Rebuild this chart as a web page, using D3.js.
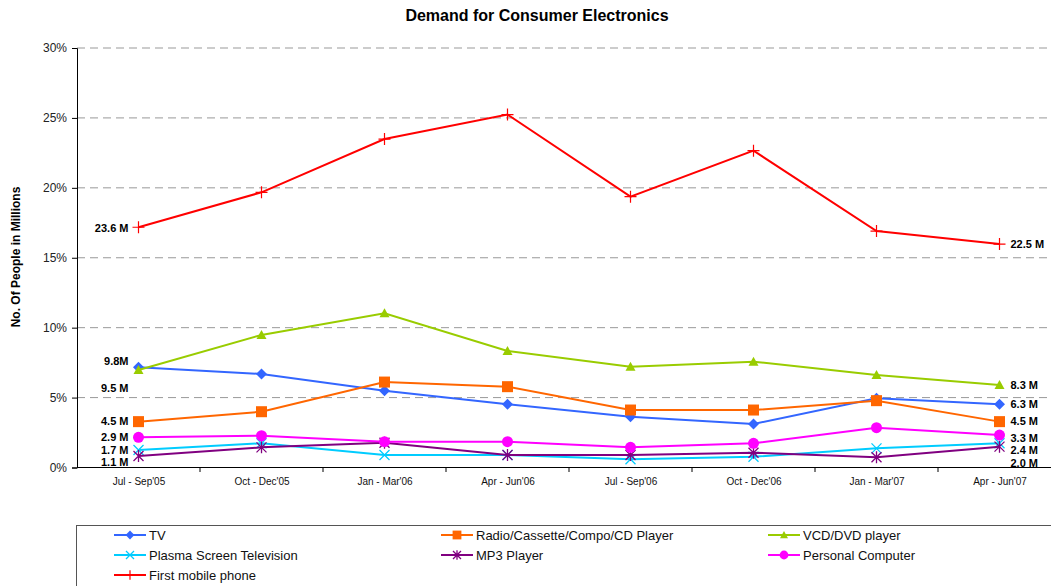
<!DOCTYPE html>
<html><head><meta charset="utf-8">
<script src="https://cdn.jsdelivr.net/npm/d3@7"></script>
<style>body{margin:0;background:#fff}svg{display:block;font-family:"Liberation Sans",Arial,sans-serif}</style>
</head><body>
<svg id="c" width="1051" height="586"></svg>
<script>
const categories = ["Jul - Sep'05","Oct - Dec'05","Jan - Mar'06","Apr - Jun'06","Jul - Sep'06","Oct - Dec'06","Jan - Mar'07","Apr - Jun'07"];
const yTicks = [0,5,10,15,20,25,30];
const tv       = [7.17,6.69,5.49,4.52,3.63,3.11,4.95,4.52];
const radio    = [3.28,3.99,6.11,5.78,4.11,4.11,4.78,3.28];
const vcd      = [6.97,9.48,11.03,8.33,7.21,7.57,6.62,5.90];
const plasma   = [1.25,1.73,0.89,0.89,0.59,0.77,1.37,1.73];
const mp3      = [0.82,1.44,1.77,0.89,0.89,1.06,0.73,1.49];
const pc       = [2.16,2.27,1.85,1.85,1.44,1.73,2.85,2.32];
const mobile   = [17.18,19.68,23.49,25.24,19.37,22.66,16.91,15.98];
const seriesNames = ["TV","Radio/Cassette/Compo/CD Player","VCD/DVD player","Plasma Screen Television","MP3 Player","Personal Computer","First mobile phone"];
const leftLabels  = ["9.8M","4.5 M","9.5 M","1.7 M","1.1 M","2.9 M","23.6 M"];
const rightLabels = ["6.3 M","4.5 M","8.3 M","2.4 M","2.0 M","3.3 M","22.5 M"];

const colors = ["#3366ff","#ff6600","#99cc00","#00ccff","#800080","#ff00ff","#ff0000"];
const markers = ["diamond","square","triangle","x","star","circle","plus"];
const leftDy  = [-6,0,18,0,6,0,1];
const rightDy = [0,0,0,7,16,3,0];
const values = [tv,radio,vcd,plasma,mp3,pc,mobile];

const svg = d3.select("#c");
const x = d3.scalePoint().domain(categories).range([77,1061]).padding(0.5);
const y = d3.scaleLinear().domain([0,30]).range([467.5,48]);

// title
svg.append("text").attr("x",537).attr("y",21).attr("text-anchor","middle")
  .attr("font-size",16).attr("font-weight","bold").text("Demand for Consumer Electronics");

// grid
svg.append("g").selectAll("line").data(yTicks.filter(d=>d>0)).join("line")
  .attr("x1",77).attr("x2",1051).attr("y1",d=>y(d)).attr("y2",d=>y(d))
  .attr("stroke","#999").attr("stroke-width",1).attr("stroke-dasharray","8,5");

// y axis
const ya = svg.append("g").attr("transform","translate(77,0)")
  .call(d3.axisLeft(y).tickValues(yTicks).tickFormat(d=>d+"%").tickSize(5).tickPadding(5));
ya.select(".domain").attr("stroke","#000");
ya.selectAll("text").attr("font-size",12).attr("font-family","Liberation Sans, Arial").attr("fill","#222");

// x axis
const xa = svg.append("g").attr("transform","translate(0,467.5)")
  .call(d3.axisBottom(x).tickSize(0).tickPadding(10));
xa.select(".domain").attr("stroke","#000").attr("d","M77,0H1051");
xa.selectAll("text").attr("font-size",10).attr("font-family","Liberation Sans Narrow, Liberation Sans, Arial").attr("fill","#111");
const step = x.step();
svg.append("g").selectAll("line").data(categories.slice(1)).join("line")
  .attr("x1",d=>x(d)-step/2).attr("x2",d=>x(d)-step/2).attr("y1",467.5).attr("y2",472)
  .attr("stroke","#000");

// y title
svg.append("text").attr("transform","translate(20,257) rotate(-90)").attr("text-anchor","middle")
  .attr("font-size",12).attr("font-weight","bold").text("No. Of People in Millions");

function drawMarker(g, type, color, s){
  s = s || 1;
  if(type==="diamond") g.append("path").attr("d",`M0,${-5.5*s}L${5.5*s},0L0,${5.5*s}L${-5.5*s},0Z`).attr("fill",color);
  else if(type==="square") g.append("rect").attr("x",-5.5*s).attr("y",-5.5*s).attr("width",11*s).attr("height",11*s).attr("fill",color);
  else if(type==="triangle") g.append("path").attr("d",`M0,${-5*s}L${5*s},${4*s}L${-5*s},${4*s}Z`).attr("fill",color);
  else if(type==="circle") g.append("circle").attr("r",5.5*s).attr("fill",color);
  else if(type==="x") g.append("path").attr("d",`M${-5*s},${-5*s}L${5*s},${5*s}M${-5*s},${5*s}L${5*s},${-5*s}`).attr("stroke",color).attr("stroke-width",1.3);
  else if(type==="star") g.append("path").attr("d",`M${-5*s},${-5*s}L${5*s},${5*s}M${-5*s},${5*s}L${5*s},${-5*s}M0,${-6*s}L0,${6*s}`).attr("stroke",color).attr("stroke-width",1.3);
  else if(type==="plus") g.append("path").attr("d",`M${-6*s},0L${6*s},0M0,${-6*s}L0,${6*s}`).attr("stroke",color).attr("stroke-width",1.2);
}

const line = d3.line().x((d,i)=>x(categories[i])).y(d=>y(d));
values.forEach((vals,si)=>{
  const g = svg.append("g");
  g.append("path").datum(vals).attr("d",line).attr("fill","none").attr("stroke",colors[si]).attr("stroke-width",2);
  vals.forEach((v,i)=>{
    const m = g.append("g").attr("transform",`translate(${x(categories[i])},${y(v)})`);
    drawMarker(m, markers[si], colors[si]);
  });
  svg.append("text").attr("x",x(categories[0])-10).attr("y",y(vals[0])+leftDy[si]).attr("dy","0.35em")
    .attr("text-anchor","end").attr("font-size",11).attr("font-weight","bold").text(leftLabels[si]);
  svg.append("text").attr("x",x(categories[7])+11).attr("y",y(vals[7])+rightDy[si]).attr("dy","0.35em")
    .attr("text-anchor","start").attr("font-size",11).attr("font-weight","bold").text(rightLabels[si]);
});

// legend
svg.append("rect").attr("x",76.5).attr("y",525.5).attr("width",1000).attr("height",100)
  .attr("fill","none").attr("stroke","#555").attr("stroke-width",1);
const legCols = [114,441,768];
const legRows = [535,555,575];
seriesNames.forEach((n,i)=>{
  const cx = legCols[i%3], cy = legRows[Math.floor(i/3)];
  const g = svg.append("g");
  g.append("line").attr("x1",cx).attr("x2",cx+32).attr("y1",cy).attr("y2",cy).attr("stroke",colors[i]).attr("stroke-width",2);
  const m = g.append("g").attr("transform",`translate(${cx+16},${cy})`);
  drawMarker(m, markers[i], colors[i], 0.8);
  g.append("text").attr("x",cx+35).attr("y",cy).attr("dy","0.35em").attr("font-size",13).attr("fill","#111").text(n);
});
</script>
</body></html>
